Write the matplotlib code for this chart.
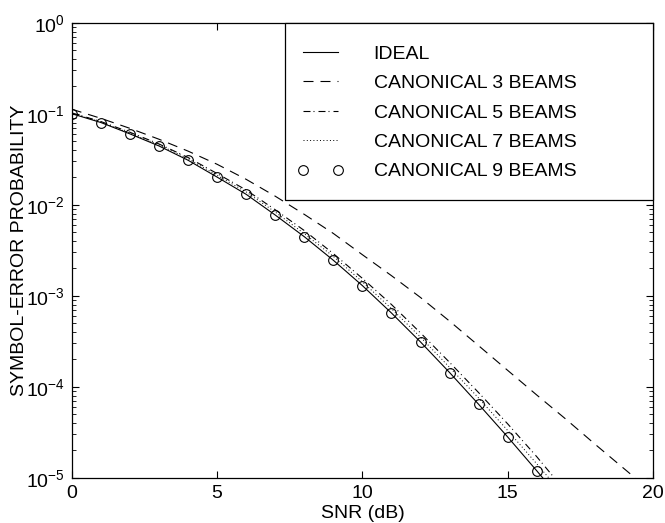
import matplotlib
matplotlib.use("Agg")
import matplotlib.pyplot as plt
from matplotlib.patches import Rectangle
import numpy as np

plt.rcParams['font.family'] = ['Liberation Sans', 'DejaVu Sans']
plt.rcParams['mathtext.default'] = 'regular'

snr_ideal = [0, 1, 2, 3, 4, 5, 6, 7, 8, 9, 10, 11, 12, 13, 14, 15, 16, 17]
ideal = [0.100, 0.080, 0.060, 0.0442, 0.0308, 0.0201, 0.0130, 0.0077, 0.00445,
         0.00245, 0.00129, 0.000645, 0.00031, 0.000143, 6.4e-5, 2.8e-5, 1.19e-5, 5.0e-6]

snr_3 = [0, 1, 2, 3, 4, 5, 6, 7, 8, 9, 10, 11, 12, 13, 14, 15, 16, 17, 18, 19, 20]
beams3 = [0.112, 0.0889, 0.0690, 0.0524, 0.0388, 0.0278, 0.0190, 0.0124, 0.00783,
          0.00483, 0.00282, 0.00166, 0.000955, 0.000525, 0.000282, 0.000151,
          8.1e-5, 4.4e-5, 2.34e-5, 1.26e-5, 6.8e-6]

snr_5 = [0, 1, 2, 3, 4, 5, 6, 7, 8, 9, 10, 11, 12, 13, 14, 15, 16, 17]
beams5 = [0.102, 0.082, 0.0625, 0.0465, 0.0330, 0.0220, 0.0145, 0.0088, 0.0052,
          0.0029, 0.00155, 0.00080, 0.00039, 0.000185, 8.6e-5, 3.9e-5, 1.7e-5, 7.0e-6]

snr_7 = [0, 1, 2, 3, 4, 5, 6, 7, 8, 9, 10, 11, 12, 13, 14, 15, 16, 17]
beams7 = [0.101, 0.081, 0.061, 0.0455, 0.032, 0.021, 0.0138, 0.0083, 0.0048,
          0.0027, 0.00142, 0.00072, 0.00035, 0.000163, 7.5e-5, 3.3e-5, 1.42e-5, 6.0e-6]

snr_9 = [0, 1, 2, 3, 4, 5, 6, 7, 8, 9, 10, 11, 12, 13, 14, 15, 16]
beams9 = [0.100, 0.080, 0.060, 0.0442, 0.0308, 0.0201, 0.0130, 0.0077, 0.00445,
          0.00245, 0.00129, 0.000645, 0.00031, 0.000143, 6.4e-5, 2.8e-5, 1.19e-5]

labels = ['IDEAL', 'CANONICAL 3 BEAMS', 'CANONICAL 5 BEAMS',
          'CANONICAL 7 BEAMS', 'CANONICAL 9 BEAMS']
xticks = [0, 5, 10, 15, 20]

fig = plt.figure(figsize=(6.65, 5.23), dpi=100)
ax = fig.add_axes([0.108, 0.0866, 0.874, 0.870])

ax.semilogy(snr_ideal, ideal, '-', color='black', lw=0.8, label=labels[0])
ax.semilogy(snr_3, beams3, color='black', lw=0.8, dashes=(9, 6.3), label=labels[1])
ax.semilogy(snr_5, beams5, color='black', lw=0.8, dashes=(6.3, 2.7, 0.9, 3.6), label=labels[2])
ax.semilogy(snr_7, beams7, color='black', lw=0.7, dashes=(1, 2.4), label=labels[3])
ax.semilogy(snr_9, beams9, 'o', color='black', mfc='none', ms=7, mew=0.8,
            linestyle='none', label=labels[4])

ax.set_xlim(0, 20)
ax.set_ylim(1e-5, 1)
ax.set_xticks(xticks)
ax.tick_params(which='both', direction='in', top=True, right=True, labelsize=14)
ax.tick_params(which='major', length=5, pad=5)
ax.tick_params(which='minor', length=3)
for s in ax.spines.values():
    s.set_linewidth(0.9)

ax.set_xlabel('SNR (dB)', fontsize=14, labelpad=2.5)
ax.set_ylabel('SYMBOL-ERROR PROBABILITY', fontsize=14, labelpad=-1.5)

# legend frame
ax.add_patch(Rectangle((0.367, 0.61), 0.633, 0.39, transform=ax.transAxes,
                       facecolor='white', edgecolor='black', lw=0.9, zorder=4,
                       clip_on=False))
leg = ax.legend(loc='upper left', bbox_to_anchor=(0.387, 0.951), frameon=False,
                borderaxespad=0, borderpad=0, handlelength=2.4, handletextpad=1.55,
                labelspacing=0.61, fontsize=14, numpoints=2)
leg.set_zorder(5)

fig.savefig('out.png', dpi=100)
